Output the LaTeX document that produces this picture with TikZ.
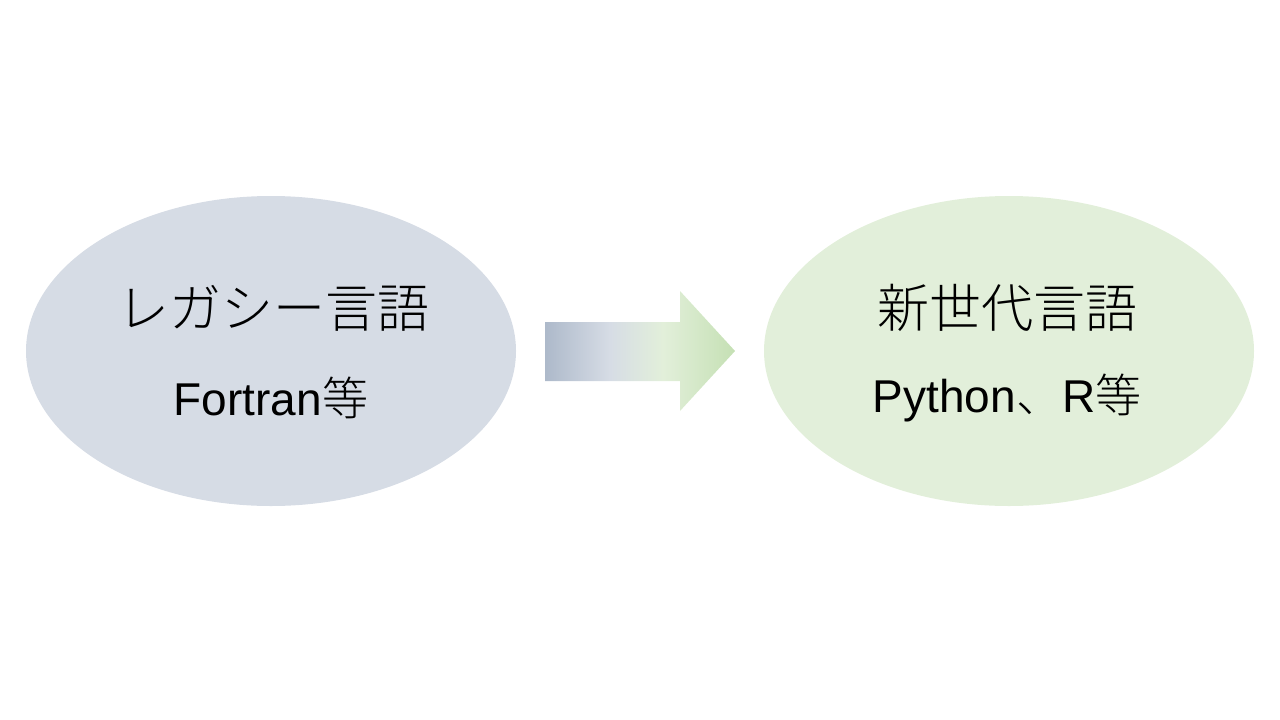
\documentclass[tikz,border=0pt]{standalone}
\usepackage{fontspec}
\setmainfont{Liberation Sans}
\newfontfamily\jp{Noto Sans CJK JP}[UprightFont=* Light]
\usetikzlibrary{shapes.geometric}
\definecolor{legacy}{HTML}{D6DCE5}
\definecolor{newgen}{HTML}{E2EFDA}
\definecolor{ga}{HTML}{ADB9CA}
\definecolor{gb}{HTML}{D6DCE5}
\definecolor{gc}{HTML}{E2EFDA}
\definecolor{gd}{HTML}{C5E0B4}
\pgfdeclarehorizontalshading{arrowshade}{100bp}{color(0bp)=(ga); color(25bp)=(ga); color(42bp)=(gb); color(56bp)=(gc); color(75bp)=(gd); color(100bp)=(gd)}
\tikzset{
  blob/.style={ellipse, minimum width=490pt, minimum height=310pt, inner sep=0pt},
  lbl/.style={font=\fontsize{46}{52}\selectfont, inner sep=0pt, anchor=center},
  ttl/.style={font=\fontsize{52}{58}\selectfont\jp, inner sep=0pt, anchor=center}
}
\begin{document}
\begin{tikzpicture}[x=1pt,y=-1pt]
\useasboundingbox (0,0) rectangle (1280,720);
\node[blob, fill=legacy] (old) at (271,351) {};
\node[blob, fill=newgen] (new) at (1009,351) {};
\node[ttl] (oldt) at (273,308) {レガシー言語};
\node[lbl] (oldl) at (271,398) {Fortran\jp 等};
\node[ttl] (newt) at (1007,308) {新世代言語};
\node[lbl] (newl) at (1007,398) {Python\jp 、\rmfamily R\jp 等};
\shade[shading=arrowshade] (545,322) -- (680,322) -- (680,291) -- (735,351) -- (680,411) -- (680,381) -- (545,381) -- cycle;
\end{tikzpicture}
\end{document}
